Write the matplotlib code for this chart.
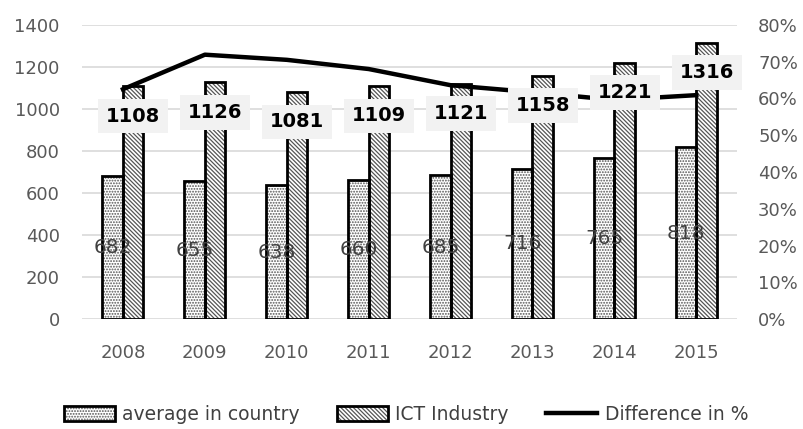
import matplotlib.pyplot as plt
from matplotlib.patches import Patch
from matplotlib.lines import Line2D
from matplotlib.legend_handler import HandlerTuple
import numpy as np

years = ['2008', '2009', '2010', '2011', '2012', '2013', '2014', '2015']
avg_country = [682, 655, 638, 660, 685, 716, 765, 818]
ict_industry = [1108, 1126, 1081, 1109, 1121, 1158, 1221, 1316]
diff_pct = [62.5, 71.9, 70.5, 68.0, 63.6, 61.7, 59.6, 60.9]

plt.rcParams['font.family'] = ['DejaVu Sans']
plt.rcParams['hatch.linewidth'] = 0.9

fig = plt.figure(figsize=(8.04, 4.29), dpi=100)
ax = fig.add_axes([0.102, 0.256, 0.815, 0.686])
ax2 = ax.twinx()

x = np.arange(len(years))
w = 0.25
gray_hatch = '#555555'
dots = '.' * 6
stripes = '\\' * 8

# hatch layer then black outline
ax.bar(x - w / 2, avg_country, w, color='white', hatch=dots, edgecolor=gray_hatch, linewidth=0, zorder=2)
ax.bar(x - w / 2, avg_country, w, fill=False, edgecolor='black', linewidth=2, zorder=3)
ax.bar(x + w / 2, ict_industry, w, color='white', hatch=stripes, edgecolor=gray_hatch, linewidth=0, zorder=2)
ax.bar(x + w / 2, ict_industry, w, fill=False, edgecolor='black', linewidth=2, zorder=3)

ax.set_xlim(-0.5, len(years) - 0.5)
ax.set_ylim(0, 1400)
ax.set_yticks(range(0, 1401, 200))
ax.grid(axis='y', color='#d9d9d9', linewidth=1.2, zorder=0)
ax.set_axisbelow(True)
ax.set_xticks(x)
ax.set_xticklabels(years)
ax.tick_params(axis='both', length=0, labelsize=13, labelcolor='#595959')
ax.tick_params(axis='y', pad=16)
ax.tick_params(axis='x', pad=18)
for s in ax.spines.values():
    s.set_visible(False)

# line on secondary axis
ax2.plot(x, diff_pct, color='black', linewidth=3.2, zorder=4)
ax2.set_ylim(0, 80)
ax2.set_yticks(range(0, 81, 10))
ax2.set_yticklabels([f'{v}%' for v in range(0, 81, 10)])
ax2.tick_params(axis='y', length=0, labelsize=13, labelcolor='#595959', pad=15)
for s in ax2.spines.values():
    s.set_visible(False)

# value labels drawn on top of everything
for xi, v in zip(x, avg_country):
    ax2.text(xi - w / 2, v / 2 / 1400 * 80, str(v), ha='center', va='center',
             fontsize=14.5, color='#404040', zorder=6)
for xi, v in zip(x, ict_industry):
    ax2.annotate(str(v), xy=(xi + w / 2, v / 1400 * 80), xytext=(0, -21.5),
                 textcoords='offset points', ha='center', va='center',
                 fontsize=14, fontweight='bold', color='black', zorder=7,
                 bbox=dict(boxstyle='square,pad=0.4', facecolor='#f2f2f2', edgecolor='none'))

h_avg = (Patch(facecolor='white', hatch=dots, edgecolor=gray_hatch, linewidth=0),
         Patch(fill=False, edgecolor='black', linewidth=2))
h_ict = (Patch(facecolor='white', hatch=stripes, edgecolor=gray_hatch, linewidth=0),
         Patch(fill=False, edgecolor='black', linewidth=2))
h_line = Line2D([], [], color='black', linewidth=3.2)
leg = fig.legend([h_avg, h_ict, h_line], ['average in country', 'ICT Industry', 'Difference in %'],
                 handler_map={tuple: HandlerTuple(ndivide=1, pad=0)},
                 loc='lower center', bbox_to_anchor=(0.505, -0.028), ncol=3, frameon=False,
                 fontsize=13.5, handlelength=2.7, handleheight=0.8, columnspacing=2.0,
                 handletextpad=0.4)
for t in leg.get_texts():
    t.set_color('#404040')

fig.savefig('out.png', dpi=100)
